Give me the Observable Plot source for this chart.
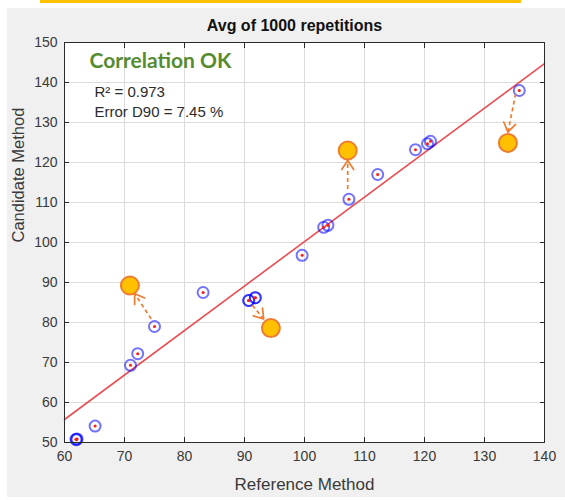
<!DOCTYPE html>
<html><head><meta charset="utf-8">
<script src="https://cdn.jsdelivr.net/npm/d3@7"></script>
<script src="https://cdn.jsdelivr.net/npm/@observablehq/plot@0.6"></script>
<style>
body{margin:0;background:#fff;width:565px;height:500px;position:relative;overflow:hidden;font-family:"Liberation Sans",Arial,sans-serif}
#bar{position:absolute;left:40px;top:0;width:481px;height:3px;background:#ffc000}
#fig{position:absolute;left:7px;top:8px;width:558px;height:489px;background:#f0f0f0}
#chart{position:absolute;left:0;top:0}
</style></head><body>
<div id="bar"></div><div id="fig"></div><div id="chart"></div>
<script>
// measured points (Reference Method vs Candidate Method)
const refX  = [61.9, 62.0, 62.1, 65.1, 71.0, 72.2, 75.0, 83.1, 90.7, 90.7, 91.8, 91.8, 99.6, 103.2, 103.9, 107.4, 112.2, 118.5, 120.5, 121.0, 135.8];
const candY = [50.8, 50.7, 50.9, 54.1, 69.3, 72.2, 79.0, 87.5, 85.5, 85.5, 86.2, 86.2, 96.8, 103.8, 104.3, 110.8, 117.0, 123.2, 124.7, 125.3, 138.0];
// regression line end points
const fitX = [60, 140];
const fitY = [55.75, 144.7];
// highlighted (moved) points
const outX = [70.9, 94.4, 107.2, 133.9];
const outY = [89.25, 78.6, 123.0, 124.9];
// arrows: start -> tip
const arrX1 = [74.45, 91.3, 107.2, 135.2];
const arrY1 = [80.9, 84.3, 113.4, 137.2];
const arrX2 = [71.7, 93.2, 107.2, 133.9];
const arrY2 = [87.2, 80.9, 120.5, 127.6];
// ticks
const xTicks = [60, 70, 80, 90, 100, 110, 120, 130, 140];
const yTicks = [50, 60, 70, 80, 90, 100, 110, 120, 130, 140, 150];
const titleText = "Avg of 1000 repetitions";
const xLabel = "Reference Method";
const yLabel = "Candidate Method";
const noteTitle = "Correlation OK";
const noteLines = ["R\u00b2 = 0.973", "Error D90 = 7.45 %"];

const W = 565, H = 500, mL = 64, mR = 21, mT = 42, mB = 58;
const kx = (W - mL - mR) / (xTicks[xTicks.length-1] - xTicks[0]);
const ky = (H - mT - mB) / (yTicks[yTicks.length-1] - yTicks[0]);

const pts = refX.map((x, i) => ({x, y: candY[i]}));
const outs = outX.map((x, i) => ({x, y: outY[i]}));
const arrows = arrX1.map((x1, i) => ({x1, y1: arrY1[i], x2: arrX2[i], y2: arrY2[i],
  rot: Math.atan2((arrX2[i] - x1) * kx, (arrY2[i] - arrY1[i]) * ky) * 180 / Math.PI}));
const fit = fitX.map((x, i) => ({x, y: fitY[i]}));

const headShape = {draw(ctx, l) { ctx.moveTo(-6, 9 - l); ctx.lineTo(0, -l); ctx.lineTo(6, 9 - l); }};
const ink = "#2b2b2b";
const orange = "#ed7d31";

const chart = Plot.plot({
  width: W, height: H,
  marginLeft: mL, marginRight: mR, marginTop: mT, marginBottom: mB,
  style: {background: "transparent", fontFamily: "'Liberation Sans', Arial, sans-serif", color: "#3a3a3a", overflow: "visible"},
  x: {domain: [60, 140]},
  y: {domain: [50, 150]},
  marks: [
    Plot.frame({fill: "white", stroke: null}),
    Plot.gridX(xTicks, {stroke: "#dcdcdc", strokeOpacity: 1}),
    Plot.gridY(yTicks, {stroke: "#dcdcdc", strokeOpacity: 1}),
    Plot.axisX(xTicks, {tickSize: 0, tickPadding: 9, fontSize: 14, label: null}),
    Plot.axisY(yTicks, {tickSize: 0, tickPadding: 7, fontSize: 14, label: null}),
    Plot.axisX(xTicks, {anchor: "bottom", tickSize: -5, tickFormat: () => "", label: null, stroke: ink}),
    Plot.axisX(xTicks, {anchor: "top", tickSize: -5, tickFormat: () => "", label: null, stroke: ink}),
    Plot.axisY(yTicks, {anchor: "left", tickSize: -5, tickFormat: () => "", label: null, stroke: ink}),
    Plot.axisY(yTicks, {anchor: "right", tickSize: -5, tickFormat: () => "", label: null, stroke: ink}),
    Plot.line(fit, {x: "x", y: "y", stroke: "#ea4d52", strokeWidth: 1.6}),
    Plot.dot(pts, {x: "x", y: "y", r: 5.5, stroke: "blue", strokeOpacity: 0.55, strokeWidth: 2, fill: "none"}),
    Plot.dot(pts, {x: "x", y: "y", r: 1.5, fill: "#ff1a1a", stroke: null}),
    Plot.link(arrows, {x1: "x1", y1: "y1", x2: "x2", y2: "y2", stroke: orange, strokeWidth: 1.7, strokeDasharray: "4,3"}),
    Plot.vector(arrows, {x: "x2", y: "y2", rotate: "rot", length: 9, anchor: "end", shape: headShape, stroke: orange, strokeWidth: 1.7}),
    Plot.dot(outs, {x: "x", y: "y", r: 9, fill: "#ffc000", stroke: orange, strokeWidth: 2}),
    Plot.frame({stroke: ink, strokeWidth: 1}),
    Plot.text([noteTitle], {frameAnchor: "top-left", dx: 25, dy: 19, textAnchor: "start", lineAnchor: "middle", fontFamily: "Lato, 'Open Sans', sans-serif", fontWeight: "bold", fontSize: 21, fill: "#568c2f"}),
    Plot.text([noteLines[0]], {frameAnchor: "top-left", dx: 30, dy: 50, textAnchor: "start", lineAnchor: "middle", fontSize: 15, fill: ink}),
    Plot.text([noteLines[1]], {frameAnchor: "top-left", dx: 30, dy: 70, textAnchor: "start", lineAnchor: "middle", fontSize: 15, fill: ink}),
    Plot.text([titleText], {frameAnchor: "top", dx: -10, dy: -17, lineAnchor: "middle", fontSize: 16, fontWeight: "bold", fill: "#111"}),
    Plot.text([xLabel], {frameAnchor: "bottom", dy: 42, lineAnchor: "middle", fontSize: 17, fill: "#3a3a3a"}),
    Plot.text([yLabel], {frameAnchor: "left", dx: -46, rotate: -90, lineAnchor: "middle", fontSize: 16.5, fill: "#3a3a3a"})
  ]
});
document.getElementById("chart").appendChild(chart);
</script>
</body></html>
